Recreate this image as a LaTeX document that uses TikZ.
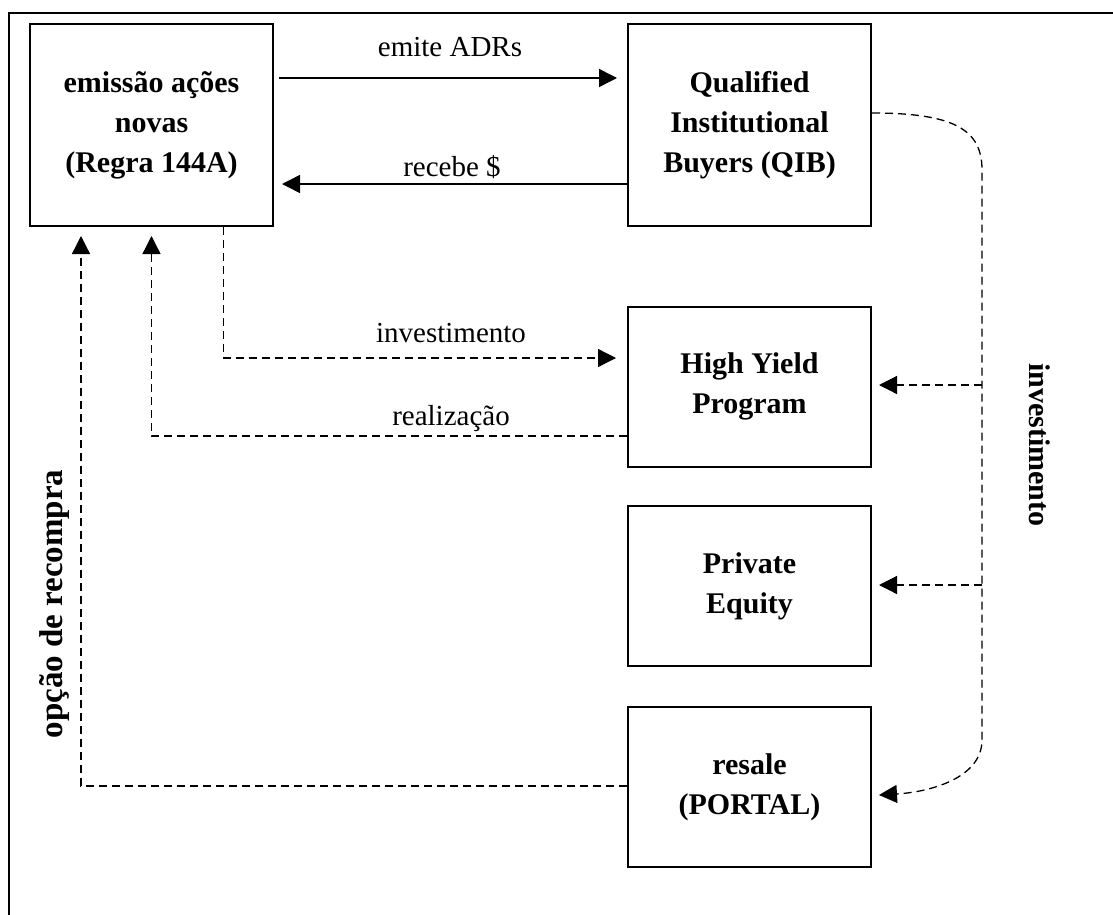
\documentclass[tikz,border=0pt]{standalone}
\usepackage{fontspec}
\setmainfont{Liberation Serif}
\usetikzlibrary{arrows.meta,calc}
\begin{document}
\begin{tikzpicture}[x=0.5pt,y=-0.5pt,
  box/.style={draw,line width=1pt,minimum width=121.5pt,inner sep=0pt,align=center,
    font=\fontsize{15}{20}\selectfont\bfseries},
  tall/.style={minimum height=101pt},
  short/.style={minimum height=80pt},
  lbl/.style={font=\fontsize{14.5}{17}\selectfont,inner sep=0pt},
  blbl/.style={font=\fontsize{15}{17}\selectfont\bfseries,inner sep=0pt},
  tip/.style={-{Triangle[length=9pt,width=9pt]}},
  solidarrow/.style={tip,line width=0.75pt},
  dasharrow/.style={tip,line width=0.65pt,dash pattern=on 4pt off 2.5pt}]
\useasboundingbox (0,0) rectangle (1113,915);
% outer frame (partial)
\draw[line width=1pt] (9,915) -- (9,13) -- (1113,13);
% boxes
\node[box,tall] (A) at (151.5,125) {emissão ações\\novas\\(Regra 144A)};
\node[box,tall] (Q) at (749.5,125) {Qualified\\Institutional\\Buyers (QIB)};
\node[box,short] (H) at (749.5,386.5) {High Yield\\Program};
\node[box,short] (P) at (749.5,586) {Private\\Equity};
\node[box,short] (R) at (749.5,787) {resale\\(PORTAL)};
% solid arrows
\draw[solidarrow] ($(A.east)+(5,-47)$) -- ($(Q.west)+(-10,-47)$);
\draw[solidarrow] ($(Q.west)+(0,59)$) -- ($(A.east)+(8,59)$);
\node[lbl] (l1) at (450,47) {emite ADRs};
\node[lbl] (l2) at (452,167) {recebe \$};
% dashed arrows left
\draw[dasharrow] ($(A.south)+(72,0)$) |- ($(H.west)+(-11,-28.5)$);
\draw[dasharrow] ($(H.west)+(0,49.5)$) -| ($(A.south)+(0,9)$);
\draw[dasharrow] ($(R.west)+(0,-1)$) -| ($(A.south)+(-70.5,9)$);
\node[lbl] (l3) at (451,333) {investimento};
\node[lbl] (l4) at (451,419) {realização};
\node[blbl,font=\fontsize{16.5}{18}\selectfont\bfseries,rotate=90] (l5) at (55,604) {opção de recompra};
% right bracket
\coordinate (s0) at (982,170);
\coordinate (s1) at (982,385);
\coordinate (s2) at (982,585);
\coordinate (s3) at (982,740);
\draw[dasharrow] ($(Q.east)+(0,-12)$) .. controls (955,113) and (982,130) .. (s0)
   -- (s3) .. controls (982,778) and (930,792) .. ($(R.east)+(7,8)$);
\draw[dasharrow] (s1) -- ($(H.east)+(7,-1.5)$);
\draw[dasharrow] (s2) -- ($(P.east)+(7,-1)$);
\node[blbl,rotate=-90] (l6) at (1040,445) {investimento};
\end{tikzpicture}
\end{document}
